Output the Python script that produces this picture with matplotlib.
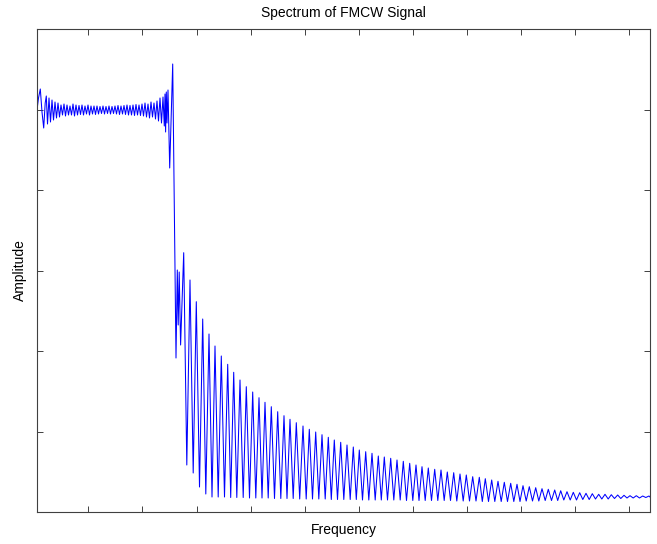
import numpy as np
import matplotlib.pyplot as plt

# passband ripple (frequency bin, amplitude)
pass_f = [0, 1.5, 3.3, 5.0, 6.7, 8.2, 9.3, 10.5, 12.0, 13.5, 15.0, 16.5, 18.0, 19.5, 21.0, 22.5,
          24.0, 25.5, 27.0, 28.5, 30.0, 31.5, 33.0, 34.5, 36.0, 37.5, 39.0, 40.5, 42.0, 43.5,
          45.0, 46.5, 48.0, 49.5, 51.0, 52.5, 54.0, 55.5, 57.0, 58.5, 60.0, 61.5, 63.0, 64.5,
          66.0, 67.5, 69.0, 70.5, 72.0, 73.5, 75.0, 76.5, 78.0, 79.5, 81.0, 82.5, 84.0, 85.5,
          87.0, 88.5, 90.0, 91.5, 93.0, 94.5, 96.0, 97.5, 99.0, 100.5, 102.0, 103.5, 105.0, 106.5,
          108.0, 109.5, 111.0, 112.5, 114.0, 115.5, 117.0, 118.5, 120.0, 121.5, 123.0, 124.5,
          126.0, 127.3, 128.0, 128.6, 129.3, 130.0, 131.0, 132.7, 135.7, 139.0, 140.3, 141.2,
          142.2, 143.6]
pass_a = [402, 414, 423, 400, 384, 409, 416, 388, 414, 390, 412, 392, 410, 394, 409, 395,
          407, 397, 408, 396, 407, 397, 406, 397, 408, 396, 407, 397, 406.5, 397.5,
          407, 397, 406, 398, 407, 397, 406, 398, 406, 397.5, 406, 398, 405.5, 398.5,
          406, 398, 405.5, 398.5, 406, 398, 405.5, 398.5, 406, 398, 406.5, 397.5, 406, 398,
          406.5, 397.5, 407, 397, 406.5, 397, 407, 396.5, 407.5, 397, 407, 396.5, 408, 396,
          409, 395, 408, 394, 410, 395, 409, 393, 411, 391, 414, 389,
          415, 386, 418, 380, 420, 389, 422, 344, 448, 154, 242, 187,
          240, 167]

# sidelobe peaks
peak_f = [146.7, 153.0, 159.3, 165.7, 172.0, 178.0, 184.3, 190.7, 196.7, 203.0,
          209.3, 215.7, 222.0, 228.0, 234.3, 240.7, 247.0, 253.0, 259.3, 266.0,
          272.3, 278.7, 285.0, 291.3, 297.3, 303.7, 310.0, 316.3, 322.3, 328.7,
          335.0, 341.3, 347.3, 353.7, 360.0, 366.3, 372.7, 379.0, 385.0, 391.3,
          397.7, 404.0, 410.3, 416.7, 423.0, 429.3, 435.7, 442.3, 448.3, 454.7,
          461.0, 467.3, 473.7, 480.0, 486.0, 492.3, 498.7, 505.0, 511.3, 517.7,
          523.7, 530.0, 536.3, 542.7, 549.0, 555.3, 561.7, 568.0, 574.3, 580.7,
          587.0, 593.0, 599.3, 605.7, 612.0]
peak_a = [259.3, 232.0, 210.3, 193.0, 178.0, 166.0, 156.0, 147.7, 139.7, 132.0,
          125.3, 120.0, 114.3, 109.7, 105.3, 100.3, 96.3, 92.7, 89.3, 86.0,
          82.7, 80.0, 77.3, 74.7, 72.0, 69.7, 67.0, 65.0, 62.0, 60.3,
          58.7, 56.0, 55.0, 53.7, 52.0, 50.7, 48.7, 47.0, 45.3, 44.0,
          42.7, 42.0, 40.0, 39.3, 38.0, 37.0, 35.3, 34.7, 33.3, 32.0,
          30.7, 29.7, 28.7, 27.7, 26.3, 25.3, 24.3, 23.3, 22.7, 22.0,
          21.3, 20.3, 19.7, 19.3, 18.7, 18.3, 17.7, 17.7, 17.3, 17.0,
          16.7, 16.3, 16.3, 16.0, 16.0]

# nulls between the sidelobes
null_f = [149.8, 156.2, 162.5, 168.8, 175.0, 181.2, 187.5, 193.7, 199.8, 206.2,
          212.5, 218.8, 225.0, 231.2, 237.5, 243.8, 250.0, 256.2, 262.7, 269.2,
          275.5, 281.8, 288.2, 294.3, 300.5, 306.8, 313.2, 319.3, 325.5, 331.8,
          338.2, 344.3, 350.5, 356.8, 363.2, 369.5, 375.8, 382.0, 388.2, 394.5,
          400.8, 407.2, 413.5, 419.8, 426.2, 432.5, 439.0, 445.3, 451.5, 457.8,
          464.2, 470.5, 476.8, 483.0, 489.2, 495.5, 501.8, 508.2, 514.5, 520.7,
          526.8, 533.2, 539.5, 545.8, 552.2, 558.5, 564.8, 571.2, 577.5, 583.8,
          590.0, 596.2, 602.5, 608.8]
null_a = [47, 39, 25, 18, 15,
          15, 15, 14.5, 14.5, 14.5, 14, 14, 14, 14, 13.5,
          13.5, 13.5, 13.5, 13, 13, 13, 13, 13, 12.5, 12.5,
          12.5, 12.5, 12.5, 12, 12, 12, 12, 12, 12, 12,
          11.5, 11.5, 11.5, 11.5, 11.5, 11.5, 11.5, 11.5, 11, 11,
          11, 11, 10.5, 10.5, 10.5, 10.5, 10.5, 10.5, 10.5, 11,
          11, 11, 11.5, 11.5, 11.5,
          12, 12, 12, 12.5, 12.5, 13,
          13, 13, 13.5, 13.5,
          14, 14, 14, 14.5]

end_f = 613.0
end_a = 15.0

# stitch the trace together: passband, then peak/null alternating
f = list(pass_f)
a = list(pass_a)
for i in range(len(null_f)):
    f += [peak_f[i], null_f[i]]
    a += [peak_a[i], null_a[i]]
f += [peak_f[-1], end_f]
a += [peak_a[-1], end_a]

plt.rcParams['font.family'] = ['Liberation Sans', 'DejaVu Sans']

fig = plt.figure(figsize=(6.57, 5.44), dpi=100)
ax = fig.add_axes([37 / 657, 32 / 544, 613 / 657, 483 / 544])
ax.plot(f, a, color='#0000ff', linewidth=0.75)

ax.set_xlim(0, 613)
ax.set_ylim(0, 483)
ax.set_xticks(np.arange(51.3, 613, 54.1))
ax.set_yticks(np.linspace(0, 483, 7))
ax.tick_params(direction='in', length=4.5, width=0.7, color='#404040',
               top=True, right=True, labelbottom=False, labelleft=False)
for s in ax.spines.values():
    s.set_color('#404040')
    s.set_linewidth(0.8)

ax.set_title('Spectrum of FMCW Signal', fontsize=10, pad=8.5)
ax.set_xlabel('Frequency', fontsize=10, labelpad=8)
ax.set_ylabel('Amplitude', fontsize=10, labelpad=7.5)

fig.savefig('out.png', dpi=100)
